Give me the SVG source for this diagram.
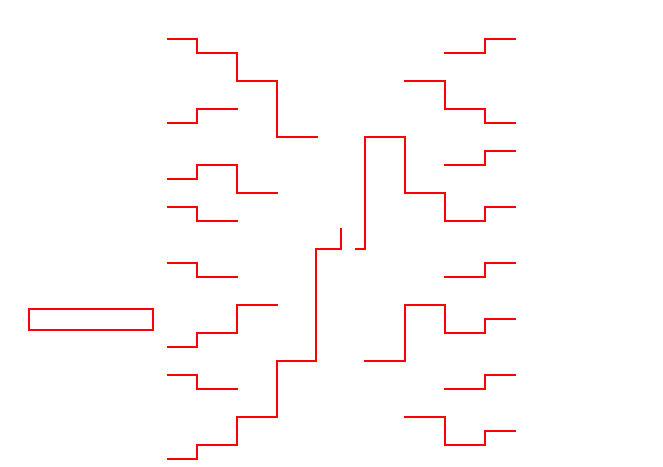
<svg xmlns="http://www.w3.org/2000/svg" width="663" height="467" viewBox="0 0 663 467">
<style>
.c{fill:none;stroke:#ff0000;stroke-width:2;stroke-linejoin:miter;stroke-linecap:butt;shape-rendering:crispEdges}
.box{fill:#ffffff;stroke:#ff0000;stroke-width:2;shape-rendering:crispEdges}
</style>
<rect width="663" height="467" fill="#ffffff"/>
<g id="node-box"><rect class="box" x="29" y="309" width="124" height="21"/></g>
<g id="connectors">
<path class="c" d="M167,39 H197 V53 H237 V81 H277 V137 H318"/>
<path class="c" d="M167,123 H197 V109 H238"/>
<path class="c" d="M167,179 H197 V165 H237 V193 H278"/>
<path class="c" d="M167,207 H197 V221 H238"/>
<path class="c" d="M167,263 H197 V277 H238"/>
<path class="c" d="M167,347 H197 V333 H237 V305 H278"/>
<path class="c" d="M167,375 H197 V389 H238"/>
<path class="c" d="M167,459 H197 V445 H237 V417 H277 V361 H316 V249 H341 V228"/>
<path class="c" d="M444,53 H485 V39 H516"/>
<path class="c" d="M404,81 H445 V109 H485 V123 H516"/>
<path class="c" d="M444,165 H485 V151 H516"/>
<path class="c" d="M355,249 H365 V137 H405 V193 H445 V221 H485 V207 H516"/>
<path class="c" d="M444,277 H485 V263 H516"/>
<path class="c" d="M364,361 H405 V305 H445 V333 H485 V319 H516"/>
<path class="c" d="M444,389 H485 V375 H516"/>
<path class="c" d="M404,417 H445 V445 H485 V431 H516"/>
</g>
</svg>
